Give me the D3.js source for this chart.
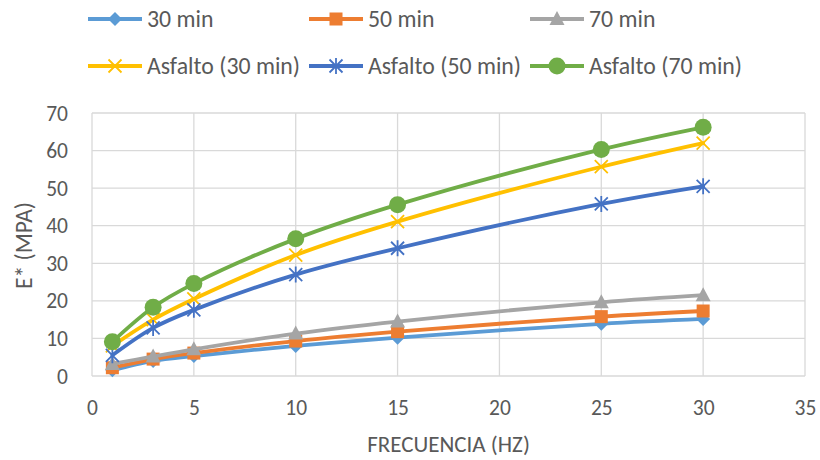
<!DOCTYPE html>
<html>
<head>
<meta charset="utf-8">
<script src="https://cdn.jsdelivr.net/npm/d3@7"></script>
<style>
  body { margin: 0; background: #fff; }
  text { font-family: Carlito, Calibri, "Liberation Sans Narrow", "Open Sans", sans-serif; fill: #595959; }
</style>
</head>
<body>
<div id="chart"></div>
<script>
// frequency (Hz)
var frecuencia = [1, 3, 5, 10, 15, 25, 30];

// E* (MPa) per series
var min30 = [1.5, 4.0, 5.3, 8.0, 10.2, 13.9, 15.2];
var min50 = [2.2, 4.5, 6.1, 9.3, 11.8, 15.8, 17.3];
var min70 = [3.2, 5.2, 7.1, 11.3, 14.5, 19.6, 21.5];
var asfalto30 = [8.0, 15.0, 20.5, 32.2, 41.1, 55.7, 62.0];
var asfalto50 = [5.5, 12.8, 17.6, 27.0, 34.0, 45.8, 50.5];
var asfalto70 = [9.1, 18.3, 24.6, 36.5, 45.6, 60.3, 66.2];

var seriesNames = ["30 min", "50 min", "70 min", "Asfalto (30 min)", "Asfalto (50 min)", "Asfalto (70 min)"];
var xTicks = [0, 5, 10, 15, 20, 25, 30, 35];
var yTicks = [0, 10, 20, 30, 40, 50, 60, 70];

var series = [
  { name: seriesNames[0], values: min30, color: "#5B9BD5", marker: "diamond" },
  { name: seriesNames[1], values: min50, color: "#ED7D31", marker: "square" },
  { name: seriesNames[2], values: min70, color: "#A5A5A5", marker: "triangle" },
  { name: seriesNames[3], values: asfalto30, color: "#FFC000", marker: "x" },
  { name: seriesNames[4], values: asfalto50, color: "#4472C4", marker: "star" },
  { name: seriesNames[5], values: asfalto70, color: "#70AD47", marker: "circle" }
];

var width = 820, height = 460;
var margin = { left: 92, right: 15, top: 113, bottom: 84 };

var svg = d3.select("#chart").append("svg")
    .attr("width", width)
    .attr("height", height);

var x = d3.scaleLinear().domain([0, 35]).range([margin.left, width - margin.right]);
var y = d3.scaleLinear().domain([0, 70]).range([height - margin.bottom, margin.top]);

// gridlines
svg.append("g").selectAll("line.h")
    .data(yTicks)
    .enter().append("line")
    .attr("x1", x(0)).attr("x2", x(35))
    .attr("y1", function(d) { return y(d); })
    .attr("y2", function(d) { return y(d); })
    .attr("stroke", "#D9D9D9").attr("stroke-width", 1.3);

svg.append("g").selectAll("line.v")
    .data(xTicks)
    .enter().append("line")
    .attr("y1", y(0)).attr("y2", y(70))
    .attr("x1", function(d) { return x(d); })
    .attr("x2", function(d) { return x(d); })
    .attr("stroke", "#D9D9D9").attr("stroke-width", 1.3);

// axes (labels only)
var xAxis = svg.append("g")
    .attr("transform", "translate(0," + y(0) + ")")
    .call(d3.axisBottom(x).tickValues(xTicks).tickSize(0).tickPadding(24));
var yAxis = svg.append("g")
    .attr("transform", "translate(" + x(0) + ",0)")
    .call(d3.axisLeft(y).tickValues(yTicks).tickSize(0).tickPadding(24));
[xAxis, yAxis].forEach(function(a) {
  a.select(".domain").remove();
  a.selectAll("text").style("font-size", "21.5px").attr("fill", "#595959")
    .style("font-family", null);
});
yAxis.selectAll("text").attr("dy", "0.33em");

// axis titles
svg.append("text")
    .attr("x", (x(0) + x(35)) / 2)
    .attr("y", 452)
    .attr("text-anchor", "middle")
    .style("font-size", "23px")
    .text("FRECUENCIA (HZ)");

svg.append("text")
    .attr("transform", "translate(32," + (y(35) + 1) + ") rotate(-90)")
    .attr("text-anchor", "middle")
    .style("font-size", "23.5px")
    .text("E* (MPA)");

function drawMarker(g, type, color) {
  if (type === "diamond") {
    g.append("path").attr("d", "M0,-7L7,0L0,7L-7,0Z").attr("fill", color);
  } else if (type === "square") {
    g.append("rect").attr("x", -6.5).attr("y", -6.5).attr("width", 13).attr("height", 13).attr("fill", color);
  } else if (type === "triangle") {
    g.append("path").attr("d", "M0,-8L7.5,6L-7.5,6Z").attr("fill", color);
  } else if (type === "x") {
    g.append("path").attr("d", "M-6.5,-6.5L6.5,6.5M-6.5,6.5L6.5,-6.5").attr("stroke", color).attr("stroke-width", 1.8);
  } else if (type === "star") {
    g.append("path").attr("d", "M-6.5,-6.5L6.5,6.5M-6.5,6.5L6.5,-6.5M0,-8L0,8").attr("stroke", color).attr("stroke-width", 1.8);
  } else if (type === "circle") {
    g.append("circle").attr("r", 8.5).attr("fill", color);
  }
}

var line = d3.line()
    .x(function(d) { return x(d[0]); })
    .y(function(d) { return y(d[1]); })
    .curve(d3.curveCatmullRom.alpha(0.5));

series.forEach(function(s) {
  var pts = frecuencia.map(function(f, i) { return [f, s.values[i]]; });
  var g = svg.append("g");
  g.append("path")
      .datum(pts)
      .attr("d", line)
      .attr("fill", "none")
      .attr("stroke", s.color)
      .attr("stroke-width", 3.8)
      .attr("stroke-linecap", "round");
  g.selectAll("g.m")
      .data(pts)
      .enter().append("g")
      .attr("transform", function(d) { return "translate(" + x(d[0]) + "," + y(d[1]) + ")"; })
      .each(function() { drawMarker(d3.select(this), s.marker, s.color); });
});

// legend: 3 columns, 2 rows
var legendX = [88, 309, 530];
var legendY = [19, 66];
series.forEach(function(s, i) {
  var lg = svg.append("g")
      .attr("transform", "translate(" + legendX[i % 3] + "," + legendY[Math.floor(i / 3)] + ")");
  lg.append("line")
      .attr("x1", 0).attr("x2", 54)
      .attr("stroke", s.color).attr("stroke-width", 3.8);
  var m = lg.append("g").attr("transform", "translate(27,0)");
  drawMarker(m, s.marker, s.color);
  lg.append("text")
      .attr("x", 59)
      .attr("dy", "0.33em")
      .style("font-size", "23.8px")
      .text(s.name);
});
</script>
</body>
</html>
